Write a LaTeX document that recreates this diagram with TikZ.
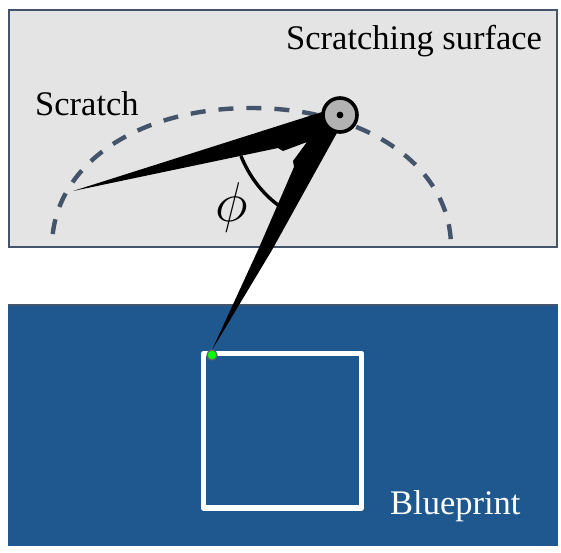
\documentclass[tikz,border=0pt]{standalone}
\usepackage{fontspec}
\setmainfont{Liberation Serif}
\definecolor{surf}{HTML}{E4E4E4}
\definecolor{edge}{HTML}{44546A}
\definecolor{blue}{HTML}{1F588F}
\tikzset{
  label/.style={inner sep=0pt,font=\fontsize{34.5}{36}\selectfont},
  panel/.style={draw=edge,line width=2pt},
}
\begin{document}
\begin{tikzpicture}[x=1pt,y=-1pt]
\useasboundingbox (0,0) rectangle (561,552);
% panels
\path[panel,fill=surf] (9,10) rectangle (557,247);
\path[fill=blue] (8,305) rectangle (558,546);
\draw[edge,line width=1.5pt] (8,305) -- (558,305);
% dashed path
\draw[edge,line width=4.4pt,dash pattern=on 15pt off 13pt,dash phase=15pt]
  (52,247) .. controls (52,166) and (136,108) .. (251,108)
  .. controls (366,108) and (451,166) .. (451,247);
% blueprint
\draw[white,line width=5.6pt,line join=round] (203.5,353.5) rectangle (361.5,508);
% arm
\coordinate (pivot) at (340,115);
\coordinate (scratchtip) at (73,191);
\coordinate (printtip) at (212,350);
\fill[black] (scratchtip) -- (322,112) -- (pivot) -- (338,131)
  -- (272,250) -- (printtip) -- (258,250) -- (294,167) -- (293,161) -- (307,142)
  -- (283,151) -- (278,148) -- cycle;
% angle
\draw[black,line width=3.4pt] (241,156) .. controls (249,176) and (262,193) .. (278,205);
% pivot
\node[circle,draw=black,line width=3.6pt,fill=black!30,minimum size=34pt,inner sep=0pt] (hub) at (pivot) {};
\fill[black] (pivot) circle (3.4pt);
% dot
\node[circle,draw=black!60,line width=1.2pt,fill=green,minimum size=10pt,inner sep=0pt] (dot) at (212,355) {};
% labels
\node[label,anchor=base west] (lsurf) at (286,49) {Scratching surface};
\node[label,anchor=base west] (lscr) at (35,115) {Scratch};
\node[label,anchor=base west,text=white] (lblue) at (390,514) {Blueprint};
\node[inner sep=0pt,scale=2.25,font=\fontsize{24.88}{26}\selectfont] (lphi) at (232,207) {$\phi$};
\end{tikzpicture}
\end{document}
